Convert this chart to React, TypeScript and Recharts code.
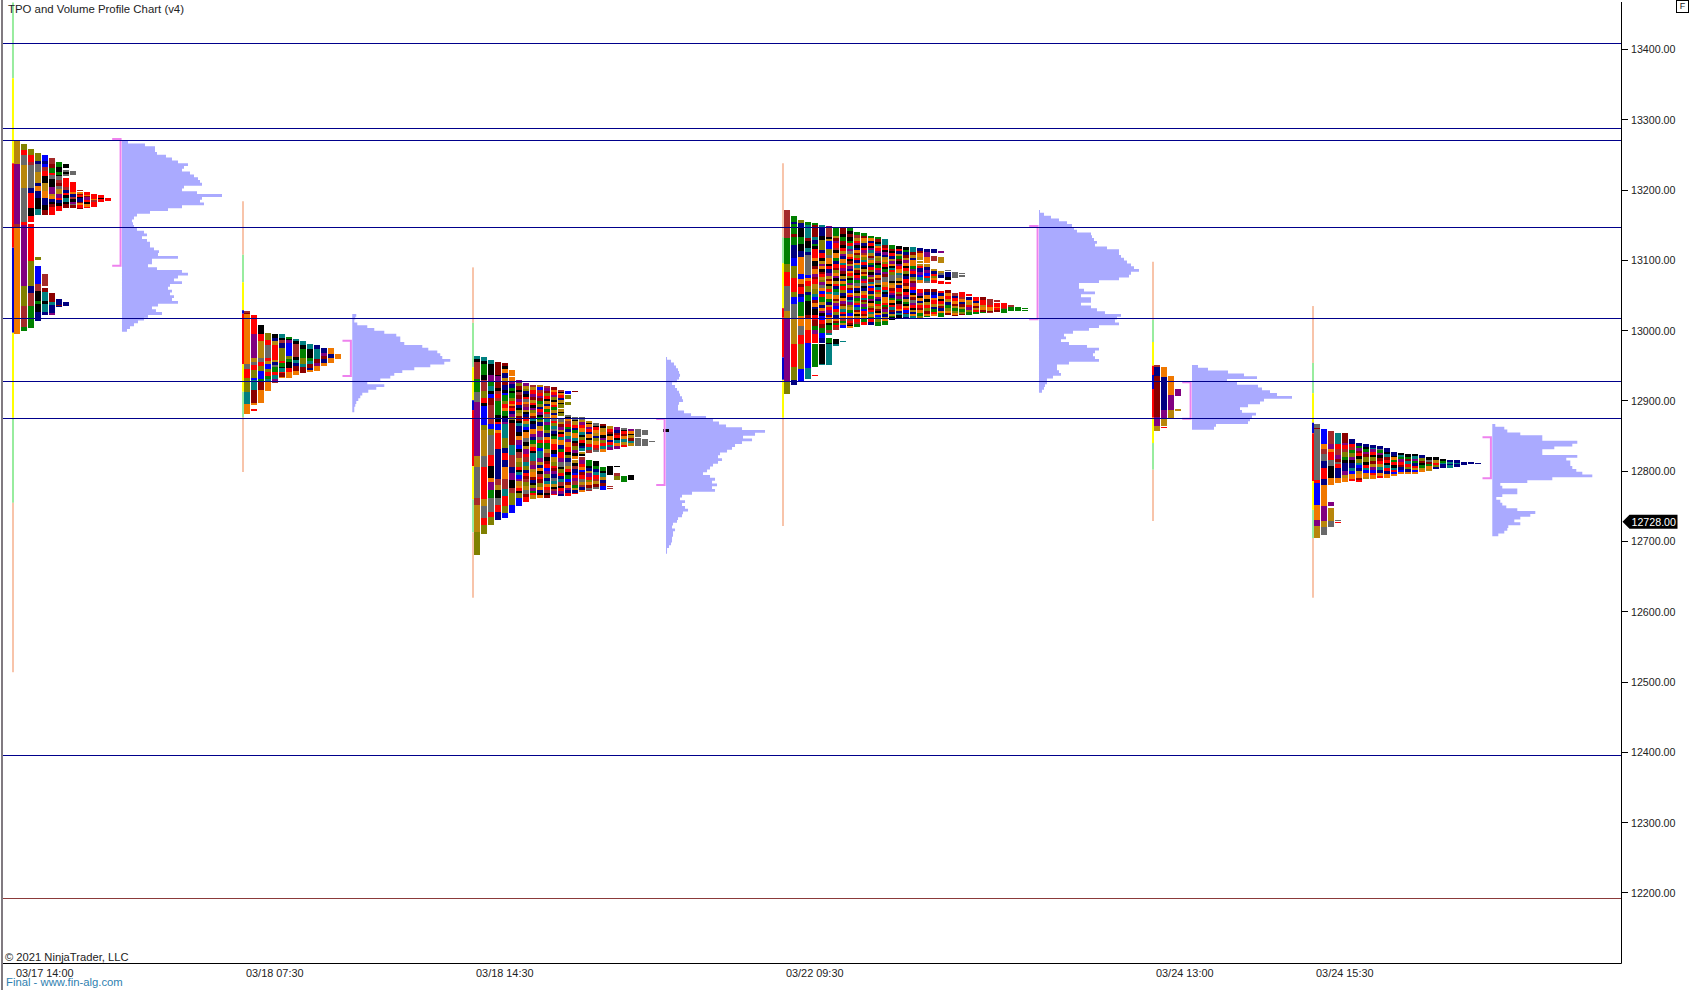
import { Area, Bar, ComposedChart, Line, ReferenceLine, XAxis, YAxis } from "recharts";

// Sessions, left to right
const sessionLabels = ["03/17 14:00", "03/18 07:30", "03/18 14:30", "03/22 09:30", "03/24 13:00", "03/24 15:30"];
const sessionSlots = [2.14, 35, 67.86, 112.14, 165, 187.86];
const sessionHighs = [13270.2, 13028, 12964, 13171.7, 12951, 12867];

const priceTicks = [13400, 13300, 13200, 13100, 13000, 12900, 12800, 12700, 12600, 12500, 12400, 12300, 12200];
const lastPrice = 12728;
const blueLevels = [13408.5, 13287.9, 13270.8, 13147, 13017.6, 12928, 12875.3, 12395];
const redLevels = [12192.3];

// Price bars: edges top to bottom, one period kind per gap
const wickEdges = [
	[13467, 13359, 13238, 13118, 12997, 12876, 12755, 12514],
	[13184, 13108, 13069, 13029, 13024, 12952, 12913, 12877, 12799],
	[13090, 13011, 12948, 12901, 12887, 12807, 12760, 12713, 12620],
	[13238, 13133, 13096, 13032, 13019, 12962, 12930, 12876, 12722],
	[13098, 13015, 12984, 12950, 12937, 12917, 12876, 12840, 12802, 12729],
	[13035, 12954, 12911, 12869, 12854, 12786, 12745, 12705, 12620],
];
const wickKinds = ["gyrbygp", "pgybrygp", "pgybrygp", "pgyrrbyp", "pgyrbrygp", "pgybrygp"];

// Value area brackets
const valueAreaHighs = [13272.6, 12985.7, 12874.3, 13148.9, 12926.5, 12848.2];
const valueAreaLows = [13092.4, 12935.5, 12780.4, 13016.1, 12874.7, 12790];

// Volume profiles, one value per row from the top of the profile
const profileSlots = [17.14, 50.04, 94.86, 148.14, 170, 212.9];
const profileHighs = [13270.2, 13023.7, 12962.5, 13171.6, 12951.1, 12867.2];
const volumeMar17 = [6, 23, 33, 33, 35, 44, 50, 56, 66, 62, 60, 68, 72, 76, 78, 80, 62, 60, 75, 100, 80, 78, 82, 60, 46, 28, 15, 12, 10, 11, 12, 15, 22, 25, 20, 25, 28, 28, 32, 37, 36, 56, 30, 30, 26, 35, 60, 66, 56, 52, 60, 48, 46, 50, 48, 52, 50, 56, 36, 30, 34, 40, 26, 22, 16, 12, 8, 5, 2];
const volumeMar18a = [4, 3, 2, 5, 15, 22, 32, 44, 48, 48, 52, 70, 76, 85, 88, 90, 98, 92, 78, 62, 50, 42, 38, 28, 15, 32, 24, 16, 10, 8, 6, 4, 3, 2, 2, 2];
const volumeMar18b = [1, 5, 8, 10, 12, 13, 14, 13, 11, 6, 9, 11, 13, 14, 16, 17, 13, 12, 12, 18, 25, 40, 47, 53, 60, 76, 99, 89, 77, 86, 76, 69, 66, 61, 54, 52, 56, 52, 47, 44, 41, 37, 44, 49, 46, 51, 46, 49, 26, 16, 14, 19, 16, 19, 22, 17, 16, 12, 11, 7, 6, 9, 7, 7, 6, 6, 5, 3, 1, 1, 1];
const volumeMar22 = [1, 5, 12, 20, 28, 33, 35, 38, 52, 53, 55, 58, 56, 68, 80, 80, 82, 85, 88, 92, 95, 100, 92, 90, 80, 60, 40, 40, 45, 56, 42, 52, 52, 42, 52, 58, 66, 82, 78, 76, 80, 60, 50, 34, 25, 27, 22, 30, 48, 60, 56, 54, 56, 60, 30, 18, 18, 20, 22, 14, 8, 8, 6, 5, 3, 1];
const volumeMar24a = [6, 16, 36, 52, 65, 35, 45, 66, 70, 78, 85, 100, 72, 68, 56, 48, 50, 64, 60, 58, 56, 24, 22, 8];
const volumeMar24b = [3, 12, 15, 28, 50, 50, 85, 80, 62, 50, 50, 85, 74, 78, 78, 80, 84, 90, 100, 60, 35, 8, 10, 25, 25, 10, 4, 8, 10, 14, 25, 43, 38, 28, 22, 28, 16, 15, 12, 6, 3];
const profileVolumes = [volumeMar17, volumeMar18a, volumeMar18b, volumeMar22, volumeMar24a, volumeMar24b];

// TPO columns: letter = period, number = rows it holds, "." = empty rows
const tpoMar17 = [
	"D23 P60 W3 O107",
	".3 L6 R5 Y10 D23 Y34 R3 P61 L20 W21 G4",
	".8 L6 R7 W3 Y23 N5 R15 K8 R6 .2 R37 L25 N7 W13 G22",
	".12 L8 N3 Y8 D11 N3 O5 N7 K11 T6 .42 L3 .6 B18 W7 K10 G3 K8 N9",
	".14 B6 N3 B3 W4 R5 K7 D8 O7 N7 K5 M5 .59 W12 .2 M4 T9 K3 T8 N3",
	".17 W6 M4 G5 R2 Y4 K8 P7 D2 O3 N3 K2 M3 R8 .78 M9 T3 N8 P2",
	".21 G5 K5 G3 K1 Y4 W3 M3 Y3 D5 P4 R2 N3 K3 R5 .88 N6 M1 N1",
	".23 K4 .2 Y2 K2 Y2 .2 R9 W3 N3 R2 K3 T4 K2 M4 .94 N4",
	".30 Y4 .7 R10 O2 N3 W2 K3 P2 Y1 M3",
	".49 W1 .1 O2 M1 R2 K1 N4 M1 O2 R3 M1",
	".51 R3 O1 M1 P3 R2 K2 O3 R1",
	".53 R5 O1 W2 R5",
	".54 R3 K1 R3",
	".57 R3",
];
const tpoMar18a = [
	"W2 M1 O50 Y5 R9 L14 T12 O10",
	".4 R19 P24 D4 Y3 R5 L8 B2 T10 M13 O2 .4 R2",
	".14 K9 R7 D17 Y4 R4 L5 B8 G3 M8 O13",
	".22 L7 R5 Y13 R3 D3 B5 L3 R4 G3 T3 O9",
	".23 K4 N3 D4 R15 D2 N3 Y2 G5 R3 T4 P3 W1",
	".23 T4 K2 W3 N5 L13 R2 G4 K1 T4 R1 M4 O1",
	".26 G2 K1 P3 B13 L3 G3 K6 R4 O6",
	".28 T2 K3 W13 K3 T3 N3 M5 O4",
	".30 T4 K4 G9 L6 T3 M6",
	".33 T5 K9 G3 T3 M4 N2 O2",
	".34 N4 T10 M4 P3 O5",
	".37 N5 P3 M3 N4 O3",
	".37 O6 N4 O5",
	".43 O5",
];
const tpoMar18b = [
	"T3 K3 W17 G13 Y10 P54 D11 Y31 W7 D27 L23",
	".1 T4 K3 G11 K5 W11 L7 R5 K3 B19 L5 D26 Y11 R32 D7 Y12 R7 L9",
	".4 T4 K11 P6 G5 T5 K3 B4 M7 W19 B5 L6 Y20 R11 K12 O4 P8 G8 Y14 R5 L8",
	".6 M13 K1 P6 M6 K3 W3 R4 W3 G14 K7 R2 B6 O3 R16 N30 W6 D5 K8 Y7 R7 N8",
	".7 M3 K3 O4 N5 D4 M3 N5 K3 B2 G6 L3 R4 O3 G5 K3 N3 P2 T14 L10 N5 R7 N7 O12 W10 T7 R10 L7 B5",
	".14 O6 .1 O4 P3 N4 G3 K2 G5 L3 R3 O2 M2 R3 N3 P3 L3 K3 M22 T10 W12 N6 P7 K8 W5 L12 B8",
	".24 P3 L3 M4 K2 W3 M4 P3 R3 N3 K2 L3 D3 M5 K2 T3 N6 K4 O4 P5 B4 K3 W6 D4 L5 R3 K2 T3 B4 P2 D5 O2 R3 K2 L5 B8",
	".27 P3 D3 L2 N3 K3 R2 Y3 O2 W3 P3 D2 K2 N3 M2 R2 D3 T3 B3 K2 O6 Y4 K4 D3 P5 R3 W5 T4 L4 N3 R3 M3 W3 L4 D4 Y4 M3 R5",
	".29 W2 D3 R4 P3 M3 D3 R2 K3 P2 L3 O3 M2 T3 K3 N5 O5 P3 N3 G4 D3 R4 K2 T8 W4 P4 D3 O5 M3 N3 K2 L3 P3 G2 R2 D4",
	".29 D2 B3 W3 R3 P2 M3 G3 L3 N2 R3 P3 K2 G3 L2 N4 D3 O2 P6 Y3 R3 G5 B3 T7 P4 D3 N3 O3 K3 W3 R2 M4 L4 O3 N3 K2 O3",
	".30 W2 P3 M2 L3 R3 K2 D3 N2 O3 G3 R2 Y3 O2 T3 P3 G5 L3 N4 O3 R3 G6 D4 W4 K4 M3 R4 B3 P3 L4 N3 T3 O3 R3 W3 K2 M3",
	".31 M3 O2 R3 P2 L3 K2 O3 R2 G3 D3 N2 O3 Y3 R2 L3 T3 Y2 N3 K2 G3 O5 R6 K4 B3 D5 L4 R2 M3 P3 N4 Y3 T3 D3 K2 W2 P3 R1",
	".34 W2 K1 O2 R3 N2 D3 K1 L4 .1 D3 K1 L3 .3 Y3 D2 M3 P3 D2 K2 R3 T3 O5 N4 G3 R6 P4 Y5 K2 L4 R3 N3 T3 W4 K2 R3 P3 N2",
	".35 B3 .1 L4 .3 L3 .10 Y2 K1 O3 W3 R3 G2 N3 D4 T3 P3 O5 R5 K3 L3 N4 Y4 D3 R3 K3 G4 B3 M3 O3 P2 N3 R3",
	".35 M1 .25 Y3 K1 D4 R3 N2 G3 O5 T3 K2 M3 L4 P3 K3 O3 .1 D3 K3 W3 N4 B2 R3 P3 W4 G3 D2 N3 R1",
	".61 Y3 D2 P3 R3 O4 T3 K2 L3 R3 K3 N2 T3 .1 D2 K2 .1 W3 P4 R3 O3 B2 M3 R4 Y3 D3 W2 N3 O2",
	".65 D2 K1 O3 P2 R3 N2 O4 K2 D4 R3 T3 W3 .7 G6 K2 N3 D2 P4 R3 L2 O3 M3 Y2 W1",
	".67 Y3 K1 R3 O3 D3 N2 L3 O4 R3 W2 Y2 .9 K5 G3 N3 T3 R4 W2 D3 M3 Y2",
	".68 M2 K2 D4 O3 K3 P2 L3 R3 T3 O3 .15 G4 K2 T4 D3 N3 M3 B4",
	".70 D3 R3 M2 K2 O4 N2 R3 T2 P3 .16 K9 .11 W1 .1 W1",
	".71 P3 N3 M2 R3 K2 T3 O3 P3 .17 K1 .6 W3 L4",
	".72 Y2 K1 R3 M2 O3 T3 D3 R2 .29 G6",
	".73 P2 O3 K1 D3 M3 T2 D3 .29 K5",
	".73 Y8 .1 Y8",
	".74 Y5 .4 Y7",
	".85 Y1",
	"",
	".73 K3",
];
const tpoMar22 = [
	"W28 G26 L8 R14 Y25 D7 P63 L13",
	".6 G6 N2 G10 M3 G8 N13 B8 L12 R14 L5 B7 Y7 Y8 D25 R23 L13 N5",
	".10 L3 N5 K9 G7 K7 N6 O17 B5 O5 M3 R7 N3 B5 G14 O10 Y9 R9 L25 B13",
	".12 G3 T13 M3 K7 T4 N3 Y20 B3 O3 R5 L6 N3 G6 K14 M3 O12 R13 B25 T11",
	".13 G2 M12 T3 N4 G2 K3 R9 O3 K5 M3 O5 P3 M2 R5 D5 L5 T3 B3 M3 O4 N2 K6 R5 M6 G4 P4 R9 .1 G23 .8 R1",
	".15 T3 N8 K4 L10 N3 R5 K3 D3 P2 O3 K3 M2 R3 D3 L2 P3 Y3 O3 B3 R3 G5 D3 N3 O3 P2 K3 B4 R4 M4 G5 B5 N5 .1 K20 T1",
	".16 P2 W9 K2 D2 B8 L6 Y3 O6 K2 R3 N4 P3 D3 M2 O3 K2 L3 R3 T2 O5 G3 N3 D2 R3 P3 B2 M2 O3 D3 K2 G5 W3 T2 .3 G5 K1 T21",
	".17 G9 D2 M3 P2 R5 W2 K3 O5 G3 N3 R4 M2 L3 O3 P2 K3 D3 R2 N3 G3 T3 O4 M2 D2 P3 B3 R3 L3 N3 O3 M2 G2 R2 W3 .9 K5 T2",
	".18 M6 K3 G4 M4 K3 R3 D3 P2 N3 O4 T2 R3 P3 M3 K2 D3 N2 O3 G2 R4 L3 N3 K2 O3 P3 M2 D3 T3 R2 N2 O3 W2 G2 D2 B3 .13 T1",
	".18 G3 K3 M3 K4 G2 R3 T3 P2 Y3 O3 R2 K2 M3 D2 P3 N2 O2 R3 L2 K2 G3 P2 D3 M2 B3 O2 R2 N3 T2 P3 L2 D3 G3 B3 O2 W3 R2 M2 K1 O2",
	".22 G3 W3 D3 R2 P2 K3 N2 O3 M2 L3 R2 N3 O2 T3 D2 M3 K2 R3 P2 G3 Y3 O2 N3 K2 D3 P2 G3 L2 R2 B2 T3 M2 O2 K2 D3 R3 W2 G3",
	".23 G3 M2 O3 D2 N3 K2 R2 P3 W2 O2 L3 T2 R3 N2 K2 D3 M2 O2 G3 P2 R2 Y3 K2 N3 D2 O2 R3 T2 M2 L2 P3 G2 B2 R3 M2 O2 G4 R3",
	".26 G2 O3 N2 R3 K2 P2 T3 D3 M2 Y2 O3 G2 N2 R3 L2 K3 P2 D2 M3 T2 O2 B2 R3 N3 D2 G3 P2 K2 O3 L2 M2 R2 T2 D3 G2 R3 N3",
	".27 G2 M3 K2 T2 O2 R3 P2 N3 D2 L3 W2 K2 G3 R2 P3 N2 O3 M2 Y3 D2 K2 T3 R2 L2 O3 P2 N2 G3 R2 D3 M2 K2 O2 B2 T2 L3 G4",
	".29 T6 M3 R2 K2 P3 N2 D3 O2 L2 R3 K2 G3 P2 M3 Y5 O3 D2 R3 T2 K2 N3 O6 R2 G2 M2 P3 L2 N3 D2 O2 G4",
	".35 G4 M2 K2 R3 N3 D2 P3 O2 K2 T2 R2 L3 Y6 K2 D2 O3 M3 R2 P2 N3 G2 O3 K2 R2 T3 M2 N2 D2 G1 K3",
	".36 K3 R2 N3 D2 G3 M2 K3 P2 R3 O4 T2 Y3 D3 K2 O2 N3 R4 L2 M2 P3 G2 K3 W2 R3 O2 N2 T2 K3 T1",
	".37 K3 G2 N3 M3 D2 P3 O3 K2 R3 L3 K2 N3 R4 M3 O3 K3 R3 P2 N2 D3 G2 K2 O2 R2 B3 M1 T3 N2",
	".37 T5 M3 D3 N2 O6 G3 P2 R3 N3 L2 D2 M2 P4 R3 B3 K2 O2 M3 Y3 P2 R3 K2 D2 N2 O2 T2 K1",
	".38 N3 M2 O4 D3 .1 D2 .1 D2 R2 N4 P3 B2 T3 O3 .6 R4 P3 K2 O3 N2 D2 R3 M2 O3 G3 L2",
	".39 N3 P5 O6 .1 D3 N3 P3 B3 R2 T3 Y2 .6 M3 N3 O4 K3 D3 R3 L3 M3 O2 G1",
	".39 N4 .3 W5 .8 D2 N3 R2 L2 O2 R3 .6 M3 N3 B3 O2 R4 D3 N2 G3 R2 O2",
	".41 P2 .4 D6 .8 D2 Y2 N3 .3 R3 .7 R2 N3 O3 K2 R3 D2 M2 N3 O2 G4",
	".60 Y1 .1 N5 K3 .2 R2 .6 M3 O3 R3 D3 N3 G3 L3 O2 M2",
	".62 Y6 .15 W3 N2 R3 O3 M2 D2 G3 L2 O2 M1",
	".63 Y1 .1 Y2 .15 R5 W2 O3 N2 M3 D2 G3 L2 M1",
	".84 R2 .1 N3 O2 D3 R2 P3 L2 G3",
	".87 R4 N2 O3 M2 D2 R2 G2",
	".87 M3 R5 D2 O3 M2 G1",
	".89 W6 R2 O3 D1 M1 W1",
	".90 W2 .1 R4 O1 R2 M2",
	".93 R5 W1 G4",
	".95 W2 G4",
	".97 G4",
	".98 G1 .1 G1",
];
const tpoMar24a = [
	"W2 N9 M41 P9 D5",
	".2 O10 N33 P8 D8 .1 R1",
	".11 O19 P15 D8",
	".24 P7 .13 D2",
];
const tpoMar24b = [
	"Y4 M1 Y51 R3 B22 O15 P6 D12",
	".5 B15 O5 W5 Y7 N7 R11 N6 O21 P15 D6 Y8",
	".7 W13 P5 O3 R8 Y6 K12 O7 .17 P4 .2 D13 Y6",
	".9 T11 R5 W6 P4 M3 Y2 R4 N10 O5 .37 Y1 .1 R1",
	".9 M10 P2 R4 W3 L5 G3 K3 N8 P4 D3 O4",
	".15 N5 R3 W3 G3 L4 P3 K3 N5 T3 B3 O5 R2",
	".19 N3 G2 P3 M2 R3 K3 L4 T2 B3 N3 D3 O4 M2 R2",
	".20 N3 K2 G3 P2 M3 L5 K3 R3 T2 B3 O4 D2",
	".21 N3 T1 P3 R3 K2 L4 M3 D3 P3 B3 R2 O4",
	".22 N3 Y1 G3 P2 K3 M3 R3 D3 T3 N3 O3 R2",
	".24 N4 K2 T3 M3 R3 K2 T3 R3 N3 O4",
	".28 N4 K1 O3 G2 R3 K3 T2 R2 B2 O2",
	".29 K2 T2 G2 P3 R3 M2 N3 B2 O2",
	".30 K3 G2 M2 T3 R3 L2 N3 O2",
	".30 K2 T3 P2 G2 N3 R2 D2 B2 O2",
	".31 N3 L3 M2 K2 G3 D2 O2",
	".33 K3 Y2 M2 G2 O3 D2",
	".33 K3 D3 R2 L2 N2",
	".35 K2 G2 T1 N4",
	".36 N2 T2 N1 T3",
	".36 N3 T1 N3",
	".38 N3",
	".38 N2",
	".39 N1",
];
const sessionColumns = [tpoMar17, tpoMar18a, tpoMar18b, tpoMar22, tpoMar24a, tpoMar24b];

const periodColors: Record<string, string> = {
	R: "#ff0000",
	K: "#000000",
	G: "#008000",
	B: "#0000ff",
	N: "#000080",
	P: "#800080",
	T: "#008080",
	M: "#8b0000",
	W: "#a52a2a",
	O: "#f07800",
	D: "#b8860b",
	L: "#808000",
	Y: "#696969",
};
const wickColors: Record<string, string> = {
	g: "#98ec9e",
	y: "#ffff00",
	r: "#ff0000",
	b: "#0000cd",
	p: "#f8c4aa",
};

const WIDTH = 1689;
const HEIGHT = 990;
const PLOT_RIGHT = 1621.5;
const PLOT_BOTTOM = 963.5;
const SLOT_PX = 7;
const MAX_SLOT = (PLOT_RIGHT - 2) / SLOT_PX;
const PRICE_MIN = 12099.6;
const PRICE_MAX = 13467.55;
const ROW_POINTS = 1.4227;
const WICK_OFFSET = 4 / SLOT_PX;
const FONT = "'Liberation Sans', Arial, sans-serif";

// one row per run of a period inside a TPO column
const tpoCells: { slot: number; span: number[]; period: string }[] = [];
sessionColumns.forEach((columns, s) => {
	columns.forEach((column, k) => {
		let price = sessionHighs[s];
		for (const m of column.matchAll(/([A-Z.])(\d*)/g)) {
			const rows = m[2] ? Number(m[2]) : 1;
			const low = price - rows * ROW_POINTS;
			if (m[1] !== ".") tpoCells.push({ slot: sessionSlots[s] + k, span: [low, price], period: m[1] });
			price = low;
		}
	});
});

const profileRows: Record<string, any>[] = [];
profileVolumes.forEach((volumes, s) => {
	volumes.forEach((v, i) => {
		profileRows.push({
			price: profileHighs[s] - i * 2.81 * ROW_POINTS,
			[`p${s}`]: [profileSlots[s], profileSlots[s] + v / SLOT_PX],
		});
	});
});

const wickSlots = sessionSlots.map((slot) => slot - WICK_OFFSET);

// the library squeezes barSize on a numeric axis, so the cell keeps its own width around the bar centre
function TpoCell(props: any) {
	const { x, y, width, height, payload } = props;
	return (
		<rect
			x={Math.round(x + width / 2) - 3}
			y={y}
			width={SLOT_PX - 1}
			height={height}
			fill={periodColors[payload.period]}
			shapeRendering="crispEdges"
		/>
	);
}

function PriceTick(props: any) {
	const { y, payload } = props;
	const last = payload.value === lastPrice;
	const x = PLOT_RIGHT;
	if (last) {
		return (
			<g>
				<path d={`M${x + 1} ${y} l7 -7 h48 v14 h-48 z`} fill="#000" />
				<text x={x + 10} y={y + 4} fontSize={10.67} fontFamily={FONT} fill="#fff">
					{payload.value.toFixed(2)}
				</text>
			</g>
		);
	}
	return (
		<g>
			<line x1={x} x2={x + 6} y1={y} y2={y} stroke="#000" shapeRendering="crispEdges" />
			<text x={x + 9.5} y={y + 4} fontSize={10.67} fontFamily={FONT} fill="#222">
				{payload.value.toFixed(2)}
			</text>
		</g>
	);
}

function TimeTick(props: any) {
	const { x, index } = props;
	return (
		<text x={x + 3} y={977} fontSize={10.9} fontFamily={FONT} fill="#222">
			{sessionLabels[index]}
		</text>
	);
}

const overlayText = { position: "absolute", fontFamily: FONT, fontSize: 11.2, color: "#222", whiteSpace: "nowrap" } as const;

export default function App() {
	return (
		<div style={{ position: "absolute", left: 0, top: 0, width: WIDTH, height: HEIGHT, background: "#fff", overflow: "hidden" }}>
			{/* volume profiles sit under the TPO chart */}
			<div style={{ position: "absolute", left: 0, top: 0 }}>
				<ComposedChart
					width={WIDTH}
					height={HEIGHT}
					data={profileRows}
					layout="vertical"
					margin={{ top: 2, right: WIDTH - PLOT_RIGHT, bottom: HEIGHT - PLOT_BOTTOM, left: 2 }}
				>
					<XAxis type="number" hide domain={[0, MAX_SLOT]} allowDataOverflow />
					<YAxis type="number" hide reversed dataKey="price" domain={[PRICE_MIN, PRICE_MAX]} allowDataOverflow />
					{profileVolumes.map((_, s) => (
						<Area
							key={s}
							dataKey={`p${s}`}
							type="stepBefore"
							stroke="none"
							fill="#aaaaff"
							fillOpacity={1}
							dot={false}
							activeDot={false}
							isAnimationActive={false}
						/>
					))}
				</ComposedChart>
			</div>

			<div style={{ position: "absolute", left: 0, top: 0 }}>
				<ComposedChart
					width={WIDTH}
					height={HEIGHT}
					data={tpoCells}
					margin={{ top: 2, right: 0, bottom: 0, left: 2 }}
				>
					<XAxis
						type="number"
						dataKey="slot"
						domain={[0, MAX_SLOT]}
						allowDataOverflow
						height={HEIGHT - PLOT_BOTTOM}
						ticks={wickSlots}
						interval={0}
						axisLine={{ stroke: "#000" }}
						tickLine={false}
						tick={<TimeTick />}
					/>
					<YAxis
						type="number"
						orientation="right"
						width={WIDTH - PLOT_RIGHT}
						domain={[PRICE_MIN, PRICE_MAX]}
						allowDataOverflow
						ticks={[...priceTicks, lastPrice]}
						interval={0}
						axisLine={{ stroke: "#000" }}
						tickLine={false}
						tick={<PriceTick />}
					/>
					<Bar dataKey="span" barSize={6} shape={<TpoCell />} isAnimationActive={false} />
					{wickEdges.flatMap((edges, s) =>
						edges.slice(1).map((edge, i) => (
							<Line
								key={`wick-${s}-${i}`}
								data={[
									{ slot: wickSlots[s], price: edges[i] },
									{ slot: wickSlots[s], price: edge },
								]}
								dataKey="price"
								stroke={wickColors[wickKinds[s][i]]}
								strokeWidth={2}
								dot={false}
								activeDot={false}
								isAnimationActive={false}
							/>
						)),
					)}
					{profileSlots.map((slot, s) => (
						<Line
							key={`va-${s}`}
							data={[
								{ slot: slot - 1.4, price: valueAreaHighs[s] },
								{ slot: slot - 0.2, price: valueAreaHighs[s] },
								{ slot: slot - 0.2, price: valueAreaLows[s] },
								{ slot: slot - 1.4, price: valueAreaLows[s] },
							]}
							dataKey="price"
							stroke="#ee82ee"
							strokeWidth={2}
							dot={false}
							activeDot={false}
							isAnimationActive={false}
						/>
					))}
					{blueLevels.map((level) => (
						<ReferenceLine key={level} y={level} stroke="#00008b" strokeWidth={1} shapeRendering="crispEdges" />
					))}
					{redLevels.map((level) => (
						<ReferenceLine key={level} y={level} stroke="#8b3a3a" strokeWidth={1} shapeRendering="crispEdges" />
					))}
				</ComposedChart>
			</div>

			<div style={{ position: "absolute", left: 1, top: 0, width: 2, height: HEIGHT, background: "#807a80" }} />
			<div style={{ ...overlayText, left: 8, top: 3, fontSize: 11.4 }}>TPO and Volume Profile Chart (v4)</div>
			<div style={{ ...overlayText, left: 5, top: 951 }}>© 2021 NinjaTrader, LLC</div>
			<div style={{ ...overlayText, left: 6, top: 976, fontSize: 11.3, color: "#2f7fb0" }}>Final - www.fin-alg.com</div>
			<div
				style={{
					...overlayText,
					left: 1676,
					top: 0,
					width: 11,
					height: 11,
					lineHeight: "11px",
					textAlign: "center",
					border: "1px solid #000",
					fontSize: 9,
				}}
			>
				F
			</div>
		</div>
	);
}
